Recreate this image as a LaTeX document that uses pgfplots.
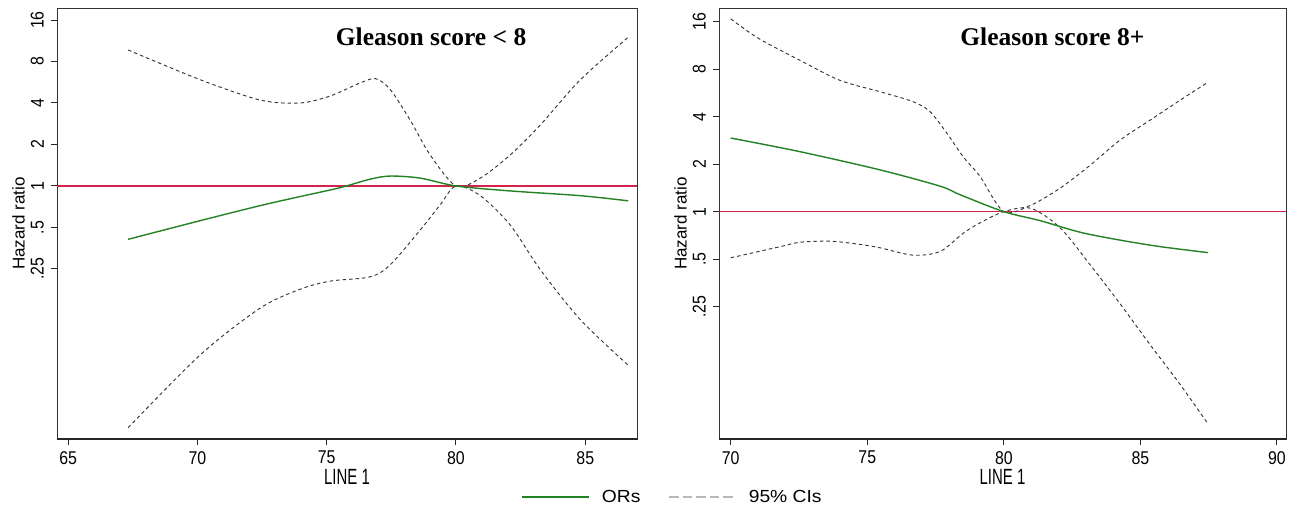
\documentclass[border=0pt]{standalone}
\usepackage{fontspec}
\setmainfont{Liberation Sans}
\newfontfamily\tickfont[FakeStretch=0.86]{Liberation Sans}
\newfontfamily\labfont[FakeStretch=0.68]{Liberation Sans}
\newfontfamily\legfont[FakeStretch=1.1]{Liberation Sans}
\newfontfamily\titlefont{Liberation Serif}
\usepackage{pgfplots}
\pgfplotsset{compat=1.18}
\pgfkeys{/pgf/number format/assume math mode=true}
\definecolor{orgreen}{RGB}{35,130,35}
\definecolor{refred}{RGB}{212,36,78}
\definecolor{cigray}{RGB}{55,55,55}

\tikzset{
  ci/.style={cigray, line width=0.95pt, dash pattern=on 3.5pt off 3pt, smooth, tension=0.5},
  orl/.style={orgreen, line width=1.4pt, smooth, tension=0.5},
}
\pgfplotsset{
  every axis y label/.style={at={(axis description cs:0,0.5)}, shift={(-38.5pt,0pt)}, rotate=90, anchor=center, font=\fontsize{17}{19}\selectfont},
  every axis x label/.style={at={(axis description cs:0.5,0)}, shift={(0pt,-38pt)}, anchor=center, font=\labfont\fontsize{22}{24}\selectfont},
}

\begin{document}
\begin{tikzpicture}
\useasboundingbox (0pt,0pt) rectangle (1294pt,-511pt);

% ---------------- Left panel ----------------
\begin{axis}[
  scale only axis, height=431pt, width=580pt,
  at={(57pt,-439pt)}, anchor=south west,
  ymode=log, log basis y=2,
  ytick={0.25,0.5,1,2,4,8,16},
  yticklabels={.25,.5,1,2,4,8,16},
  xtick pos=left, ytick pos=left,
  tick align=outside,
  major tick length=6pt,
  tick style={black!85, line width=1pt},
  axis line style={black!80, line width=1pt},
  tick label style={font=\tickfont\fontsize{18.5}{20}\selectfont},
  yticklabel style={rotate=90, anchor=south, inner sep=0pt},
  xticklabel style={anchor=north, inner sep=0pt},
  yticklabel shift=7pt, xticklabel shift=6pt,
  ylabel={Hazard ratio},
  xlabel={LINE 1},
  xmin=64.57, xmax=87.0,
  ymin=0.01458, ymax=19.56,
  xtick={65,70,75,80,85},
  legend image code/.code={\draw[#1] (0pt,0pt) -- (67pt,0pt);},
  legend style={at={(axis description cs:1.0595,-0.1346)}, anchor=center, draw=none, fill=none,
    inner sep=0pt, font=\legfont\fontsize{17.5}{19}\selectfont,
    nodes={inner sep=0pt},
    /tikz/every odd column/.append style={column sep=12pt},
    /tikz/every even column/.append style={column sep=28pt}},
  legend columns=2,
]
\addplot[color=refred, line width=1.3pt, forget plot] coordinates {(64.57,1) (87.0,1)};
\addplot[ci, forget plot] coordinates {
 (67.32,9.7) (70.11,5.9) (72.43,4.2) (73.97,4.0) (75.14,4.5) (76.3,5.6) (76.9,6.0) (77.46,5.0)
 (78.23,3.0) (79.0,1.68) (80.0,1.0) (80.94,1.14) (82.10,1.68) (83.26,2.77) (84.81,5.9) (86.66,12.0)};
\addplot[ci, forget plot] coordinates {
 (67.32,0.0176) (70.11,0.0595) (72.43,0.130) (73.97,0.178) (75.14,0.204) (76.68,0.219)
 (77.46,0.268) (78.62,0.48) (79.39,0.73) (80.0,1.0) (80.94,0.85) (82.10,0.52) (83.26,0.247) (84.81,0.107) (86.66,0.050)};
\addplot[orl, forget plot] coordinates {
 (67.32,0.41) (70.11,0.56) (72.43,0.72) (74.0,0.84) (75.5,0.97) (76.68,1.12) (77.46,1.18)
 (78.62,1.14) (80.0,1.0) (82.1,0.92) (84.81,0.85) (86.66,0.78)};
\addlegendimage{orgreen, line width=1.5pt}
\addlegendentry{ORs}
\addlegendimage{gray!55, line width=1.4pt, dash pattern=on 9.5pt off 4pt}
\addlegendentry{95\% CIs}
\draw[black!85, line width=2.5pt] (rel axis cs:0,0) -- (rel axis cs:1,0);
\node[anchor=base, font=\titlefont\bfseries\fontsize{25.5}{28}\selectfont] at (rel axis cs:0.645,1) [yshift=-37pt] {Gleason score < 8};
\end{axis}

% ---------------- Right panel ----------------
\begin{axis}[
  scale only axis, height=431pt, width=567pt,
  at={(719pt,-439pt)}, anchor=south west,
  ymode=log, log basis y=2,
  ytick={0.25,0.5,1,2,4,8,16},
  yticklabels={.25,.5,1,2,4,8,16},
  xtick pos=left, ytick pos=left,
  tick align=outside,
  major tick length=6pt,
  tick style={black!85, line width=1pt},
  axis line style={black!80, line width=1pt},
  tick label style={font=\tickfont\fontsize{18.5}{20}\selectfont},
  yticklabel style={rotate=90, anchor=south, inner sep=0pt},
  xticklabel style={anchor=north, inner sep=0pt},
  yticklabel shift=7pt, xticklabel shift=6pt,
  ylabel={Hazard ratio},
  xlabel={LINE 1},
  xmin=69.57, xmax=90.33,
  ymin=0.0362, ymax=19.56,
  xtick={70,75,80,85,90},
]
\addplot[color=refred, line width=1.6pt, forget plot] coordinates {(69.57,1.002) (90.33,1.002)};
\addplot[ci, forget plot] coordinates {
 (70.0,16.7) (71.0,12.6) (72.54,9.1) (74.0,6.8) (75.47,5.76) (76.68,4.98) (77.30,4.30) (77.91,3.15)
 (78.51,2.23) (79.13,1.67) (80.0,1.0) (80.99,1.10) (82.06,1.41) (83.16,1.97) (84.26,2.85) (85.36,3.81) (86.46,5.10) (87.48,6.63)};
\addplot[ci, forget plot] coordinates {
 (70.0,0.51) (71.81,0.60) (72.54,0.64) (73.64,0.65) (74.74,0.62) (75.47,0.59) (76.68,0.53)
 (77.67,0.56) (78.51,0.73) (79.13,0.85) (80.0,1.0) (80.99,1.05) (82.06,0.79) (83.16,0.46)
 (84.26,0.26) (85.36,0.143) (86.46,0.080) (87.48,0.045)};
\addplot[orl, forget plot] coordinates {
 (70.0,2.93) (72.54,2.40) (75.47,1.84) (77.67,1.45) (78.4,1.28) (80.0,1.0) (81.33,0.877)
 (82.80,0.74) (84.26,0.66) (85.73,0.60) (87.48,0.55)};
\draw[black!85, line width=2.5pt] (rel axis cs:0,0) -- (rel axis cs:1,0);
\node[anchor=base, font=\titlefont\bfseries\fontsize{25.5}{28}\selectfont] at (rel axis cs:0.588,1) [yshift=-37pt] {Gleason score 8+};
\end{axis}
\end{tikzpicture}
\end{document}
